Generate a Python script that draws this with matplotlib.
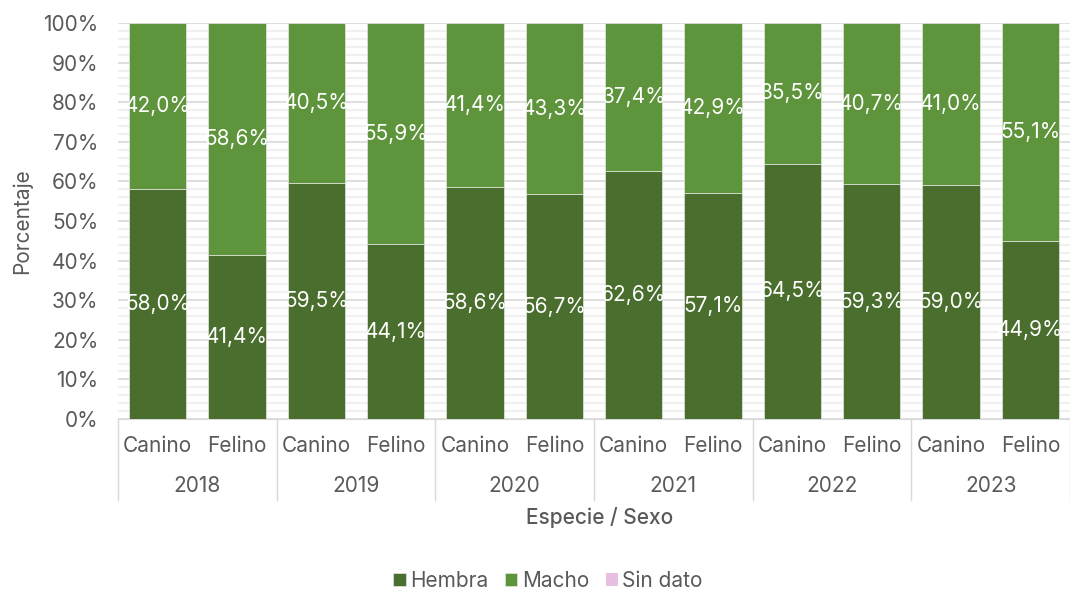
import numpy as np
import matplotlib.pyplot as plt
from matplotlib.ticker import MultipleLocator, PercentFormatter
import matplotlib.transforms as mtransforms

plt.rcParams['font.family'] = ['Inter', 'DejaVu Sans']

# data
years = ['2018', '2019', '2020', '2021', '2022', '2023']
species = ['Canino', 'Felino']
hembra = [58.0, 41.4, 59.5, 44.1, 58.6, 56.7, 62.6, 57.1, 64.5, 59.3, 59.0, 44.9]
macho = [42.0, 58.6, 40.5, 55.9, 41.4, 43.3, 37.4, 42.9, 35.5, 40.7, 41.0, 55.1]
sin_dato = [0, 0, 0, 0, 0, 0, 0, 0, 0, 0, 0, 0]

c_hembra = '#4a6e2d'
c_macho = '#5e943b'
c_sin = '#e8bfe0'
gray = '#595959'
fs = 15

fig = plt.figure(figsize=(10.7, 5.92), dpi=100)
ax = fig.add_axes([0.1103, 0.2922, 0.8897, 0.6689])

x = np.arange(len(hembra))
w = 0.72
h = np.array(hembra)
m = np.array(macho)
s = np.array(sin_dato)
ax.bar(x, h, w, color=c_hembra, edgecolor='#e6e6e6', linewidth=0.5, label='Hembra', zorder=3)
ax.bar(x, m, w, bottom=h, color=c_macho, edgecolor='#e6e6e6', linewidth=0.5, label='Macho', zorder=3)
ax.bar(x, s, w, bottom=h + m, color=c_sin, label='Sin dato', zorder=3)

def fmt(v):
    return ('%.1f%%' % v).replace('.', ',')

for i in range(len(x)):
    ax.text(x[i], h[i] / 2, fmt(h[i]), ha='center', va='center', color='white', fontsize=fs, zorder=4)
    ax.text(x[i], h[i] + m[i] / 2, fmt(m[i]), ha='center', va='center', color='white', fontsize=fs, zorder=4)

ax.set_xlim(-0.5, len(x) - 0.5)
ax.set_ylim(0, 100)
ax.yaxis.set_major_locator(MultipleLocator(10))
ax.yaxis.set_minor_locator(MultipleLocator(2))
ax.yaxis.set_major_formatter(PercentFormatter(decimals=0))
ax.grid(axis='y', which='major', color='#d9d9d9', linewidth=1.2, zorder=0)
ax.grid(axis='y', which='minor', color='#f0f0f0', linewidth=1.5, zorder=0)
ax.tick_params(axis='y', which='both', length=0, labelsize=fs, labelcolor=gray, pad=14)
ax.tick_params(axis='x', which='both', length=0)
ax.set_xticks([])
for sp in ['top', 'right', 'left']:
    ax.spines[sp].set_visible(False)
ax.spines['bottom'].set_color('#d9d9d9')

# two-level category axis
trans = mtransforms.blended_transform_factory(ax.transData, ax.transAxes)
for i in range(len(x)):
    ax.text(x[i], -0.068, species[i % 2], transform=trans, ha='center', va='center',
            fontsize=fs, color=gray)
for j, yr in enumerate(years):
    ax.text(2 * j + 0.5, -0.17, yr, transform=trans, ha='center', va='center',
            fontsize=fs, color=gray)
for j in range(len(years) + 1):
    ax.plot([2 * j - 0.5, 2 * j - 0.5], [0, -0.205], transform=trans, color='#d9d9d9',
            linewidth=1, clip_on=False)

ax.set_ylabel('Porcentaje', fontsize=fs, color=gray, labelpad=8)
fig.text(600 / 1070, 1 - 518 / 592, 'Especie / Sexo', ha='center', va='center', fontsize=fs,
         color=gray, fontweight='medium')

fig.legend(loc='center', bbox_to_anchor=(548 / 1070, 1 - 581 / 592), ncol=3, frameon=False,
           fontsize=fs, labelcolor=gray, handlelength=0.6, handleheight=0.6,
           handletextpad=0.2, columnspacing=0.8)

plt.savefig('out.png')
